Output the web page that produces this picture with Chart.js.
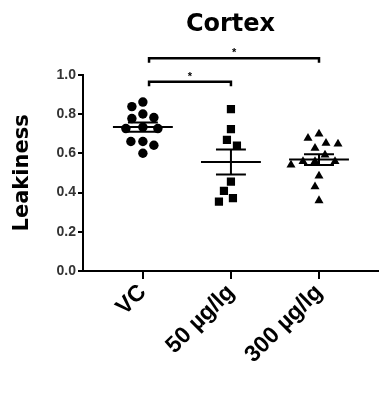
<!DOCTYPE html>
<html>
<head>
<meta charset="utf-8">
<script src="https://cdn.jsdelivr.net/npm/chart.js@4.4.0/dist/chart.umd.min.js"></script>
<style>
  body { margin: 0; background: #fff; }
</style>
</head>
<body>
<canvas id="leakChart" width="388" height="400"></canvas>
<script>
// Values (Leakiness per animal)
const categories = ["VC", "50 µg/lg", "300 µg/lg"];
const vcValues = [0.861, 0.838, 0.800, 0.782, 0.777, 0.733, 0.726, 0.726, 0.660, 0.660, 0.641, 0.600];
const dose50Values = [0.825, 0.723, 0.668, 0.639, 0.456, 0.408, 0.371, 0.354];
const dose300Values = [0.699, 0.677, 0.651, 0.648, 0.626, 0.592, 0.558, 0.558, 0.558, 0.541, 0.485, 0.430, 0.359];
const yTicks = [0, 0.2, 0.4, 0.6, 0.8, 1.0];

// Significance brackets: pairs of groups, bracket height and label
const comparisons = [[0, 1], [0, 2]];
const bracketLevels = [0.964, 1.084];
const bracketLabels = ["*", "*"];

const groups = [vcValues, dose50Values, dose300Values];
const pointStyles = ["circle", "rect", "triangle"];
const pointSizes = [4.7, 5.8, 5.2];

const mean = (arr) => arr.reduce((a, b) => a + b, 0) / arr.length;
const sem = (arr) => {
    const m = mean(arr);
    const sd = Math.sqrt(arr.reduce((a, b) => a + (b - m) ** 2, 0) / (arr.length - 1));
    return sd / Math.sqrt(arr.length);
};

// Mean line plus SEM whiskers, separated by gaps
function errorBar(i, values) {
    const m = mean(values), s = sem(values);
    const gap = { x: i, y: null };
    return [
        { x: i - 0.34, y: m }, { x: i + 0.34, y: m }, gap,
        { x: i - 0.17, y: m + s }, { x: i + 0.17, y: m + s }, gap,
        { x: i - 0.17, y: m - s }, { x: i + 0.17, y: m - s }, gap,
        { x: i, y: m - s }, { x: i, y: m + s }
    ];
}

const scatterSets = groups.map((values, i) => ({
    label: categories[i],
    data: values.map(v => ({ x: i, y: v })),
    pointStyle: pointStyles[i],
    pointRadius: pointSizes[i],
    pointHoverRadius: pointSizes[i],
    backgroundColor: "#000",
    borderColor: "#000",
    borderWidth: 0
}));

const barSets = groups.map((values, i) => ({
    data: errorBar(i, values),
    showLine: true,
    spanGaps: false,
    pointRadius: 0,
    borderColor: "#000",
    borderWidth: 2
}));

const bracketSets = comparisons.map(([a, b], k) => ({
    data: [
        { x: a + 0.07, y: bracketLevels[k] - 0.022 },
        { x: a + 0.07, y: bracketLevels[k] },
        { x: b, y: bracketLevels[k] },
        { x: b, y: bracketLevels[k] - 0.022 }
    ],
    showLine: true,
    clip: false,
    pointRadius: 0,
    borderColor: "#000",
    borderWidth: 2.5
}));

// Stars over the brackets
const starPlugin = {
    id: "stars",
    afterDatasetsDraw(chart) {
        const { ctx, scales } = chart;
        ctx.save();
        ctx.fillStyle = "#000";
        ctx.font = "bold 11px 'Liberation Sans', Arial, sans-serif";
        ctx.textAlign = "center";
        ctx.textBaseline = "alphabetic";
        comparisons.forEach(([a, b], k) => {
            const x = scales.x.getPixelForValue((a + 0.07 + b) / 2);
            const y = scales.y.getPixelForValue(bracketLevels[k]);
            ctx.fillText(bracketLabels[k], x, y - 2);
        });
        ctx.restore();
    }
};

Chart.defaults.font.family = "'Liberation Sans', Arial, sans-serif";
Chart.defaults.color = "#000";

const chart = new Chart(document.getElementById("leakChart"), {
    type: "scatter",
    data: { datasets: [...scatterSets, ...barSets, ...bracketSets] },
    options: {
        responsive: false,
        animation: false,
        events: [],
        layout: { autoPadding: false, padding: { left: 0, right: 10, top: 0, bottom: 0 } },
        plugins: {
            legend: { display: false },
            tooltip: { enabled: false },
            title: {
                display: true,
                text: "Cortex",
                fullSize: false,
                color: "#000",
                font: { family: "'Comic Sans MS', 'DejaVu Sans', sans-serif", size: 24, weight: "bold" },
                padding: { top: 10, bottom: 36 }
            }
        },
        scales: {
            x: {
                type: "linear",
                min: -0.68,
                max: 2.67,
                afterBuildTicks: (scale) => { scale.ticks = categories.map((c, i) => ({ value: i })); },
                afterFit: (scale) => { scale.height = 129; },
                ticks: {
                    callback: (v) => categories[v],
                    minRotation: 45,
                    maxRotation: 45,
                    autoSkip: false,
                    color: "#000",
                    padding: 0,
                    font: { size: 23, weight: "bold" }
                },
                grid: { drawOnChartArea: false, tickLength: 8, color: "#000", lineWidth: 2 },
                border: { color: "#000", width: 2 }
            },
            y: {
                min: 0,
                max: 1.0,
                afterBuildTicks: (scale) => { scale.ticks = yTicks.map(v => ({ value: v })); },
                afterFit: (scale) => { scale.width = 83; },
                ticks: {
                    callback: (v) => v.toFixed(1),
                    color: "#333",
                    padding: 2,
                    font: { size: 14, weight: "bold" }
                },
                grid: { drawOnChartArea: false, tickLength: 5, color: "#000", lineWidth: 2 },
                border: { color: "#000", width: 2 },
                title: {
                    display: true,
                    text: "Leakiness",
                    color: "#000",
                    font: { family: "'Comic Sans MS', 'DejaVu Sans', sans-serif", size: 21, weight: "bold" },
                    padding: { top: 10, bottom: 4 }
                }
            }
        }
    },
    plugins: [starPlugin]
});

// Spread the points sideways (beeswarm) using the chart's own scales
function swarm(values, center, minDist) {
    const xs = chart.scales.x, ys = chart.scales.y;
    const cx = xs.getPixelForValue(center);
    const placed = [];
    const out = new Array(values.length);
    const order = values.map((v, i) => i).sort((a, b) => values[b] - values[a]);
    order.forEach(i => {
        const py = ys.getPixelForValue(values[i]);
        for (let k = 0; k < 400; k++) {
            const px = cx + (k % 2 ? -1 : 1) * Math.ceil(k / 2);
            if (placed.every(p => Math.hypot(p.x - px, p.y - py) >= minDist)) {
                placed.push({ x: px, y: py });
                out[i] = xs.getValueForPixel(px);
                break;
            }
        }
    });
    return out;
}

groups.forEach((values, i) => {
    const xs = swarm(values, i, 11.5);
    chart.data.datasets[i].data = values.map((v, j) => ({ x: xs[j], y: v }));
});
chart.update("none");
</script>
</body>
</html>
